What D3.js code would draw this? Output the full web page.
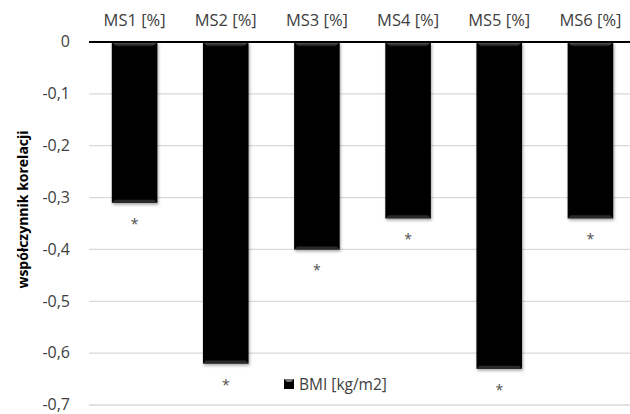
<!DOCTYPE html>
<html>
<head>
<meta charset="utf-8">
<script src="https://cdn.jsdelivr.net/npm/d3@7"></script>
<style>
    body { margin: 0; background: #fff; }
    text { font-family: "Open Sans", Lato, sans-serif; }
</style>
</head>
<body>
<div id="chart"></div>
<script>
const categories = ["MS1 [%]", "MS2 [%]", "MS3 [%]", "MS4 [%]", "MS5 [%]", "MS6 [%]"];
const values = [-0.31, -0.62, -0.40, -0.34, -0.63, -0.34];
const marks = ["*", "*", "*", "*", "*", "*"];
const yTicks = [0, -0.1, -0.2, -0.3, -0.4, -0.5, -0.6, -0.7];
const seriesName = "BMI [kg/m2]";

const width = 630, height = 414;
const margin = { top: 42, right: -6, bottom: 9, left: 89 };
const innerW = width - margin.left - margin.right;
const innerH = height - margin.top - margin.bottom;

const svg = d3.select("#chart").append("svg")
    .attr("width", width)
    .attr("height", height);

const defs = svg.append("defs");
const bevel = defs.append("linearGradient")
    .attr("id", "bevel").attr("x1", 0).attr("y1", 0).attr("x2", 0).attr("y2", 1);
bevel.append("stop").attr("offset", "0%").attr("stop-color", "#6a6a6a");
bevel.append("stop").attr("offset", "100%").attr("stop-color", "#000");

const shadow = defs.append("filter").attr("id", "shadow")
    .attr("x", "-20%").attr("y", "-5%").attr("width", "140%").attr("height", "115%");
shadow.append("feDropShadow")
    .attr("dx", 1).attr("dy", 2).attr("stdDeviation", 1.5)
    .attr("flood-color", "#000").attr("flood-opacity", 0.35);

const g = svg.append("g").attr("transform", `translate(${margin.left},${margin.top})`);

const x = d3.scaleBand().domain(categories).range([0, innerW]).paddingInner(0.5).paddingOuter(0.25);
const y = d3.scaleLinear().domain([0, -0.7]).range([0, innerH]);

// gridlines
g.append("g")
    .selectAll("line")
    .data(yTicks.filter(d => d !== 0))
    .join("line")
    .attr("x1", 0).attr("x2", innerW)
    .attr("y1", d => y(d)).attr("y2", d => y(d))
    .attr("stroke", "#d9d9d9").attr("stroke-width", 1.3);

// y axis labels
const yAxis = g.append("g")
    .call(d3.axisLeft(y).tickValues(yTicks).tickSize(0).tickPadding(19)
        .tickFormat(d => d === 0 ? "0" : d3.format(".1f")(d).replace("−", "-").replace(".", ",")));
yAxis.select(".domain").remove();
yAxis.selectAll("text")
    .attr("fill", "#404040")
    .attr("dy", "0.3em")
    .style("font-size", "16px");

// bars
const bars = g.append("g").selectAll("g")
    .data(categories.map((c, i) => ({ c, v: values[i], m: marks[i] })))
    .join("g");

bars.append("rect")
    .attr("x", d => x(d.c))
    .attr("y", y(0))
    .attr("width", x.bandwidth())
    .attr("height", d => y(d.v) - y(0))
    .attr("fill", "#000")
    .attr("filter", "url(#shadow)");

bars.append("path")
    .attr("d", d => {
        const x0 = x(d.c), x1 = x0 + x.bandwidth(), b = 5;
        return `M${x0},${y(0)}L${x1},${y(0)}L${x1 - b},${y(0) + b}L${x0 + b},${y(0) + b}Z`;
    })
    .attr("fill", "url(#bevel)");

bars.append("path")
    .attr("d", d => {
        const x0 = x(d.c), x1 = x0 + x.bandwidth(), b = 3, yb = y(d.v);
        return `M${x0},${yb}L${x1},${yb}L${x1 - b},${yb - b}L${x0 + b},${yb - b}Z`;
    })
    .attr("fill", "#2a2a2a");

bars.append("text")
    .attr("x", d => x(d.c) + x.bandwidth() / 2)
    .attr("y", d => y(d.v) + 26)
    .attr("text-anchor", "middle")
    .attr("fill", "#505050")
    .style("font-size", "14px")
    .text(d => d.m);

// zero line
g.append("line")
    .attr("x1", 0).attr("x2", innerW)
    .attr("y1", y(0)).attr("y2", y(0))
    .attr("stroke", "#000").attr("stroke-width", 2);

// category labels on top
g.append("g").selectAll("text")
    .data(categories)
    .join("text")
    .attr("x", d => x(d) + x.bandwidth() / 2)
    .attr("y", -16)
    .attr("text-anchor", "middle")
    .attr("fill", "#404040")
    .style("font-size", "16.5px")
    .text(d => d);

// y axis title
svg.append("text")
    .attr("transform", `translate(23,${margin.top + innerH / 2 - 14}) rotate(-90)`)
    .attr("text-anchor", "middle")
    .attr("dy", "0.35em")
    .attr("fill", "#000")
    .style("font-size", "14px")
    .style("font-weight", "bold")
    .text("współczynnik korelacji");

// legend
const legend = svg.append("g").attr("transform", "translate(284,379)");
legend.append("rect")
    .attr("width", 10).attr("height", 10)
    .attr("fill", "#000");
legend.append("path")
    .attr("d", "M0,0L10,0L7,3L3,3Z")
    .attr("fill", "#777");
legend.append("text")
    .attr("x", 15).attr("y", 10.5)
    .attr("fill", "#404040")
    .style("font-size", "15.5px")
    .text(seriesName);
</script>
</body>
</html>
